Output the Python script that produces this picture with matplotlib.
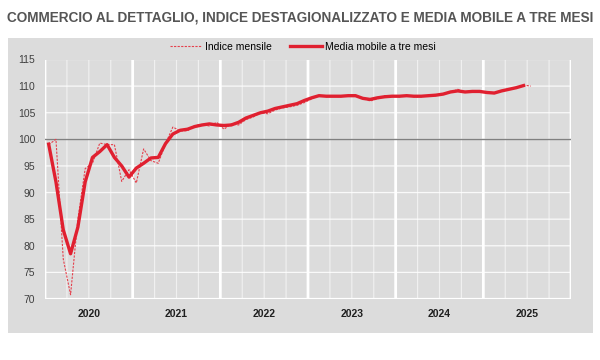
import matplotlib.pyplot as plt
from matplotlib.patches import Rectangle
from matplotlib import font_manager
import numpy as np

# Font: narrow sans if available
names = {f.name for f in font_manager.fontManager.ttflist}
narrow = 'Liberation Sans Narrow' if 'Liberation Sans Narrow' in names else 'Liberation Sans'
plt.rcParams['font.family'] = [narrow, 'DejaVu Sans']

# Data: monthly index Jan 2020 - Jul 2025, 3-month moving average Jan 2020 - Jun 2025
indice_mensile = [
    99.0, 100.0, 77.5, 70.8, 85.0, 94.5, 95.5, 99.3, 99.0, 99.0, 92.1, 94.3,
    91.8, 98.2, 96.0, 95.5, 99.2, 102.3, 101.6, 101.6, 102.6, 102.8, 102.5, 103.2,
    101.9, 102.9, 102.7, 103.7, 104.2, 105.0, 104.8, 105.5, 105.9, 106.1, 106.4, 106.9,
    107.6, 108.3, 108.0, 108.1, 108.0, 108.2, 108.3, 107.7, 107.2, 107.6, 108.2, 108.1,
    108.0, 108.2, 108.0, 108.0, 108.2, 108.2, 108.6, 108.8, 109.4, 108.9, 109.0, 109.0,
    108.7, 108.6, 109.1, 109.3, 109.7, 110.2, 110.0,
]
media_mobile = [
    99.1, 92.0, 83.0, 78.5, 83.5, 92.0, 96.6, 97.7, 99.0, 96.6, 95.0, 92.9,
    94.6, 95.5, 96.5, 96.6, 99.2, 101.0, 101.7, 101.9, 102.4, 102.7, 102.9, 102.7,
    102.6, 102.7, 103.2, 104.0, 104.5, 105.0, 105.3, 105.8, 106.1, 106.4, 106.7, 107.3,
    107.8, 108.2, 108.1, 108.1, 108.1, 108.2, 108.2, 107.7, 107.5, 107.8, 108.0, 108.1,
    108.1, 108.2, 108.1, 108.1, 108.2, 108.3, 108.5, 108.9, 109.1, 108.9, 109.0, 109.0,
    108.8, 108.7, 109.1, 109.4, 109.7, 110.1,
]
years = ['2020', '2021', '2022', '2023', '2024', '2025']
yticks = [70, 75, 80, 85, 90, 95, 100, 105, 110, 115]

red = '#E02030'
panel = '#DCDCDC'
txt = '#404040'

fig = plt.figure(figsize=(6, 3.6), dpi=100)
fig.patch.set_facecolor('white')

# grey panel behind the chart
fig.patches.append(Rectangle((8/600, 1-333/360), 585/600, 295/360,
                             transform=fig.transFigure, facecolor=panel,
                             edgecolor='none', zorder=-5))

fig.text(0.5, 1-18/360, 'COMMERCIO AL DETTAGLIO, INDICE DESTAGIONALIZZATO E MEDIA MOBILE A TRE MESI',
         ha='center', va='center', fontsize=9.8, fontweight='bold', color='#555555')

ax = fig.add_axes([45/600, 1-299/360, 526/600, 239.5/360])
ax.set_zorder(2)
ax.set_facecolor(panel)

n_months = 12 * len(years)
ax.set_xlim(-0.5, n_months - 0.5)
ax.set_ylim(70, 115)

# grid: quarters thin, years thick, horizontal every 5
for q in range(0, n_months + 1, 3):
    if q % 12 == 0:
        ax.axvline(q - 0.5, color='white', lw=2.0, zorder=1.5, snap=False)
    else:
        ax.axvline(q - 0.5, color='white', lw=0.8, alpha=0.6, zorder=1, snap=False)
for v in yticks:
    ax.axhline(v, color='white', lw=0.9, alpha=0.85, zorder=1, snap=False)
ax.axhline(70, color='white', lw=1.6, zorder=1.5)
ax.axhline(100, color='#808080', lw=1.0, zorder=2)

x_ind = np.arange(len(indice_mensile))
x_mm = np.arange(len(media_mobile))
ax.plot(x_ind, indice_mensile, color='#E5404C', lw=0.8, dashes=(2, 1.2), zorder=3,
        label='Indice mensile')
ax.plot(x_mm, media_mobile, color=red, lw=2.4, zorder=4,
        label='Media mobile a tre mesi')

for s in ax.spines.values():
    s.set_visible(False)

ax.set_yticks(yticks)
ax.set_yticklabels([str(v) for v in yticks], fontsize=7.5, color=txt)
ax.set_xticks([12 * i + 5.5 for i in range(len(years))])
ax.set_xticklabels(years, fontsize=7.5, fontweight='bold', color='#202020')
ax.tick_params(axis='both', length=0)
ax.tick_params(axis='y', pad=7)
ax.tick_params(axis='x', pad=7)

fig.legend(loc='center', bbox_to_anchor=(0.505, 1-47/360), ncol=2, frameon=False,
           fontsize=7.5, handlelength=3.0, columnspacing=1.8, handletextpad=0.3)

fig.savefig('out.png', dpi=100, facecolor='white')
